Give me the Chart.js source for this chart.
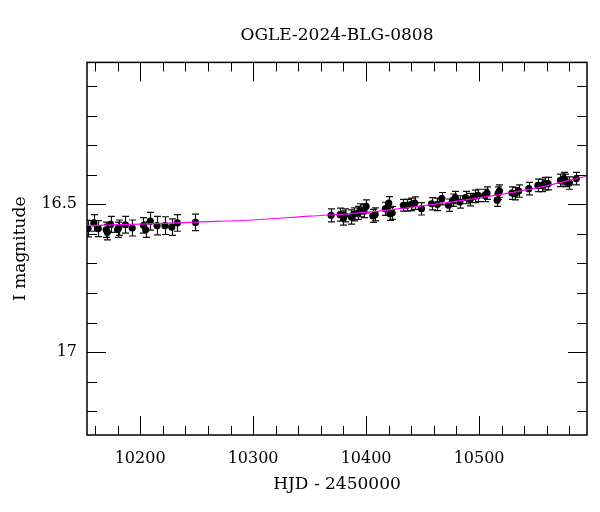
<!DOCTYPE html>
<html><head><meta charset="utf-8">
<script src="https://cdn.jsdelivr.net/npm/chart.js@4.4.1/dist/chart.umd.min.js"></script>
<style>html,body{margin:0;padding:0;background:#fff}#wrap{width:600px;height:512px}</style>
</head><body><div id="wrap"><canvas id="c" width="600" height="512"></canvas></div>
<script>
const titleText = 'OGLE-2024-BLG-0808';
const xLabel = 'HJD - 2450000';
const yLabel = 'I magnitude';

const hjd = [10154,10159,10163,10170,10171,10174,10180,10181,10187,10193,10203,10205,10209,10215,10222,10228,10233,10249,
  10369,10377,10380,10381,10387,10389,10393,10395,10398,10400,10406,10408,10417,10420,10421,10423,
  10433,10436,10440,10443,10449,10458,10463,10467,10473,10477,10479,10483,10488,10492,10496,
  10499,10505,10507,10516,10517,10518,10529,10532,10535,10544,10552,
  10556,10558,10561,10572,10575,10576,10580,10586];
const mag = [16.582,16.563,16.582,16.586,16.594,16.568,16.586,16.579,16.569,16.580,16.571,16.586,16.557,16.572,16.572,16.577,16.563,16.561,
  16.537,16.535,16.546,16.537,16.543,16.534,16.529,16.520,16.523,16.507,16.539,16.534,16.515,16.496,16.532,16.529,
  16.503,16.503,16.500,16.496,16.515,16.498,16.500,16.481,16.503,16.486,16.477,16.492,16.477,16.484,16.473,
  16.470,16.470,16.462,16.486,16.462,16.455,16.462,16.464,16.455,16.447,16.436,
  16.436,16.430,16.430,16.419,16.413,16.419,16.428,16.413];
const magErr = [0.028,0.028,0.027,0.026,0.026,0.027,0.026,0.026,0.028,0.027,0.026,0.026,0.030,0.031,0.030,0.028,0.028,0.028,
  0.022,0.022,0.024,0.022,0.024,0.022,0.022,0.022,0.022,0.022,0.022,0.022,0.022,0.022,0.022,0.022,
  0.020,0.020,0.021,0.021,0.021,0.021,0.021,0.021,0.021,0.021,0.021,0.021,0.021,0.021,0.021,
  0.021,0.021,0.021,0.021,0.021,0.021,0.021,0.021,0.021,0.021,0.021,
  0.021,0.021,0.021,0.021,0.021,0.021,0.021,0.021];

const modelHjd = [10153,10200,10250,10300,10350,10400,10450,10500,10550,10595];
const modelMag = [16.572,16.567,16.560,16.553,16.540,16.527,16.505,16.478,16.445,16.405];

const xTickLabels = [10200,10300,10400,10500];
const yTickLabels = [16.5,17];
const xMinorStep = 20;
const yMinorStep = 0.1;
const xRange = [10153,10595.5];
const yRange = [16.02,17.28];

const serif = "'DejaVu Serif', serif";

const errorBars = {
  id: 'errorBars',
  beforeDatasetsDraw(chart) {
    const {ctx, scales:{x,y}, chartArea:a} = chart;
    ctx.save();
    ctx.beginPath(); ctx.rect(a.left,a.top,a.right-a.left,a.bottom-a.top); ctx.clip();
    ctx.strokeStyle = '#111'; ctx.lineWidth = 1.2;
    for (let i=0;i<hjd.length;i++){
      const px = Math.round(x.getPixelForValue(hjd[i]))+0.5;
      const y1 = y.getPixelForValue(mag[i]-magErr[i]);
      const y2 = y.getPixelForValue(mag[i]+magErr[i]);
      ctx.beginPath();
      ctx.moveTo(px,y1); ctx.lineTo(px,y2);
      ctx.moveTo(px-3.5,y1); ctx.lineTo(px+3.5,y1);
      ctx.moveTo(px-3.5,y2); ctx.lineTo(px+3.5,y2);
      ctx.stroke();
    }
    ctx.restore();
  }
};

const frame = {
  id: 'frame',
  afterDraw(chart) {
    const {ctx, scales:{x,y}, chartArea:a} = chart;
    ctx.save();
    ctx.strokeStyle = '#000'; ctx.lineWidth = 1;
    ctx.beginPath();
    for (let v = 10160; v <= 10590; v += xMinorStep) {
      const px = Math.round(x.getPixelForValue(v))+0.5;
      const len = (v % 100 === 0) ? 19 : 9;
      ctx.moveTo(px,a.bottom); ctx.lineTo(px,a.bottom-len);
      ctx.moveTo(px,a.top); ctx.lineTo(px,a.top+len);
    }
    for (let k = 1; k <= 12; k++) {
      const v = 16 + k*yMinorStep;
      const py = Math.round(y.getPixelForValue(v))+0.5;
      const len = (k % 5 === 0) ? 19 : 10;
      ctx.moveTo(a.left,py); ctx.lineTo(a.left+len,py);
      ctx.moveTo(a.right,py); ctx.lineTo(a.right-len,py);
    }
    ctx.stroke();
    ctx.lineWidth = 1.5;
    ctx.strokeRect(a.left, a.top, a.right-a.left, a.bottom-a.top);
    ctx.restore();
  }
};

new Chart(document.getElementById('c'), {
  type: 'scatter',
  data: {
    datasets: [
      {
        type: 'line',
        label: 'model',
        data: modelHjd.map((t,i)=>({x:t,y:modelMag[i]})),
        borderColor: '#ff00ff',
        borderWidth: 1.2,
        pointRadius: 0,
        cubicInterpolationMode: 'monotone',
        fill: false,
        order: 0
      },
      {
        label: 'OGLE',
        data: hjd.map((t,i)=>({x:t,y:mag[i]})),
        backgroundColor: '#000',
        borderColor: '#000',
        pointRadius: 3.6,
        borderWidth: 0,
        order: 1
      }
    ]
  },
  options: {
    responsive: false,
    animation: false,
    devicePixelRatio: 1,
    layout: { padding: { right: 13 } },
    plugins: {
      legend: { display: false },
      tooltip: { enabled: false },
      title: {
        display: true,
        text: titleText,
        fullSize: false,
        color: '#000',
        font: { family: serif, size: 17, weight: 'normal' },
        padding: { top: 25, bottom: 17 }
      }
    },
    scales: {
      x: {
        type: 'linear',
        min: xRange[0], max: xRange[1],
        grid: { display: false },
        border: { display: false },
        afterFit(s){ s.height = 77; },
        afterBuildTicks(s){ s.ticks = xTickLabels.map(v=>({value:v})); },
        ticks: {
          color: '#000', padding: 6, maxRotation: 0,
          font: { family: serif, size: 16 },
          callback: v => String(v)
        },
        title: {
          display: true, text: xLabel, color: '#000',
          font: { family: serif, size: 17 },
          padding: { top: 0, bottom: 17 }
        }
      },
      y: {
        type: 'linear',
        reverse: true,
        min: yRange[0], max: yRange[1],
        grid: { display: false },
        border: { display: false },
        afterFit(s){ s.width = 87; },
        afterBuildTicks(s){ s.ticks = yTickLabels.map(v=>({value:v})); },
        ticks: {
          color: '#000', padding: 2,
          font: { family: serif, size: 16 },
          callback: v => String(v)
        },
        title: {
          display: true, text: yLabel, color: '#000',
          font: { family: serif, size: 17 },
          padding: { top: 10, bottom: 0 }
        }
      }
    }
  },
  plugins: [errorBars, frame]
});
</script>
</body></html>
